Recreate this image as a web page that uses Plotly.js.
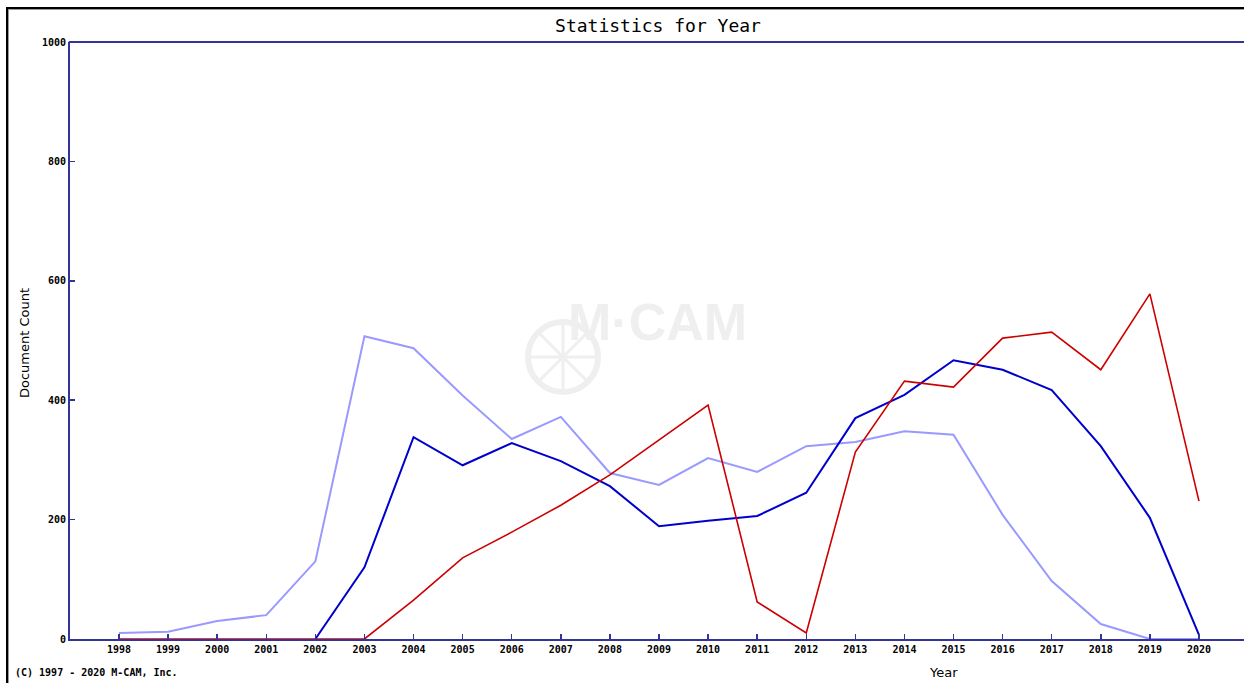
<!DOCTYPE html>
<html>
<head>
<meta charset="utf-8">
<script src="https://cdn.plot.ly/plotly-3.0.1.min.js"></script>
<style>
  html, body { margin: 0; padding: 0; background: #fff; overflow: hidden; }
  #chart { width: 1244px; height: 683px; position: absolute; left: 0; top: 0; }
  #frame { position: absolute; left: 6px; top: 7px; width: 1400px; height: 800px;
           border-left: 2px solid #000; border-top: 2px solid #000; pointer-events: none;
           box-shadow: inset 1px 1px 0 #999; }
</style>
</head>
<body>
<div id="chart"></div>
<div id="frame"></div>
<script>
const years = [1998,1999,2000,2001,2002,2003,2004,2005,2006,2007,2008,2009,2010,2011,2012,2013,2014,2015,2016,2017,2018,2019,2020];
const tickLabels = years.map(String);
const seriesLight = [10,12,30,40,130,507,487,408,335,372,278,258,303,280,323,330,348,342,208,97,25,0,0];
const seriesBlue  = [null,null,null,null,0,120,338,291,328,298,256,189,198,206,245,370,409,467,451,417,323,203,7];
const seriesRed   = [0,0,0,0,0,0,65,136,179,224,275,333,392,62,10,313,432,422,504,514,451,578,231];
const yTicks = [0,200,400,600,800,1000];

const axisColor = '#33339a';
const tickFont = {family: 'DejaVu Sans Mono', size: 10, color: '#000', weight: 'bold'};
const W = 1244, ML = 70, PW = W - ML, MT = 42, PH = 597;
const px = v => (v - ML) / PW;
const py = v => (MT + PH - v) / PH;

const traces = [
  {x: years, y: seriesLight, type: 'scatter', mode: 'lines', line: {color: '#9999ff', width: 2}, hoverinfo: 'x+y'},
  {x: years, y: seriesBlue, type: 'scatter', mode: 'lines', line: {color: '#0000cc', width: 2}, hoverinfo: 'x+y'},
  {x: years, y: seriesRed, type: 'scatter', mode: 'lines', line: {color: '#cc0000', width: 1.6}, hoverinfo: 'x+y'}
];

const wm = '#efefef';
const shapes = [
  {type: 'line', xref: 'paper', yref: 'paper', layer: 'above', x0: -0.001, x1: 1, y0: 1, y1: 1,
   line: {color: axisColor, width: 2}},
  {type: 'circle', xref: 'paper', yref: 'paper', layer: 'below',
   x0: px(528), x1: px(598), y0: py(392), y1: py(322), line: {color: wm, width: 6}}
];
[[563,322,563,392],[528,357,598,357],[538,332,588,382],[538,382,588,332]].forEach(s => {
  shapes.push({type: 'line', xref: 'paper', yref: 'paper', layer: 'below',
    x0: px(s[0]), y0: py(s[1]), x1: px(s[2]), y1: py(s[3]), line: {color: wm, width: 3}});
});

const layout = {
  width: W, height: 683,
  margin: {l: ML, r: 0, t: MT, b: 44},
  paper_bgcolor: '#fff', plot_bgcolor: '#fff',
  showlegend: false,
  title: {text: 'Statistics for Year', xref: 'container', x: 658 / W, xanchor: 'center', y: 0.962, yanchor: 'middle',
          font: {family: 'DejaVu Sans Mono', size: 18, color: '#000'}},
  xaxis: {
    range: [1997.002, 2020.917], tickmode: 'array', tickvals: years, ticktext: tickLabels,
    ticks: 'inside', ticklen: 5, tickwidth: 1.5, tickcolor: axisColor,
    showline: true, linecolor: axisColor, linewidth: 2, mirror: false,
    showgrid: false, zeroline: false, tickfont: tickFont
  },
  yaxis: {
    range: [0, 1000], tickmode: 'array', tickvals: yTicks, ticktext: yTicks.map(String),
    ticks: 'inside', ticklen: 5, tickwidth: 1.5, tickcolor: axisColor,
    showline: true, linecolor: axisColor, linewidth: 2, mirror: false,
    showgrid: false, zeroline: false, tickfont: tickFont
  },
  shapes: shapes,
  annotations: [
    {text: 'M·CAM', xref: 'paper', yref: 'paper', x: px(658), y: py(322),
     xanchor: 'center', yanchor: 'middle', showarrow: false,
     font: {family: 'Liberation Sans Narrow, Liberation Sans', size: 52, color: wm, weight: 'bold'}},
    {text: 'Document Count', xref: 'paper', yref: 'paper', x: px(24), y: py(343),
     xanchor: 'center', yanchor: 'middle', showarrow: false, textangle: -90,
     font: {family: 'DejaVu Sans', size: 13, color: '#000'}},
    {text: 'Year', xref: 'paper', yref: 'paper', x: px(943), y: py(672),
     xanchor: 'center', yanchor: 'middle', showarrow: false,
     font: {family: 'DejaVu Sans', size: 13, color: '#000'}},
    {text: '(C) 1997 - 2020 M-CAM, Inc.', xref: 'paper', yref: 'paper', x: px(13), y: py(672),
     xanchor: 'left', yanchor: 'middle', showarrow: false,
     font: {family: 'DejaVu Sans Mono', size: 10, color: '#000', weight: 'bold'}}
  ]
};

Plotly.newPlot('chart', traces, layout, {staticPlot: true, displayModeBar: false});
</script>
</body>
</html>
